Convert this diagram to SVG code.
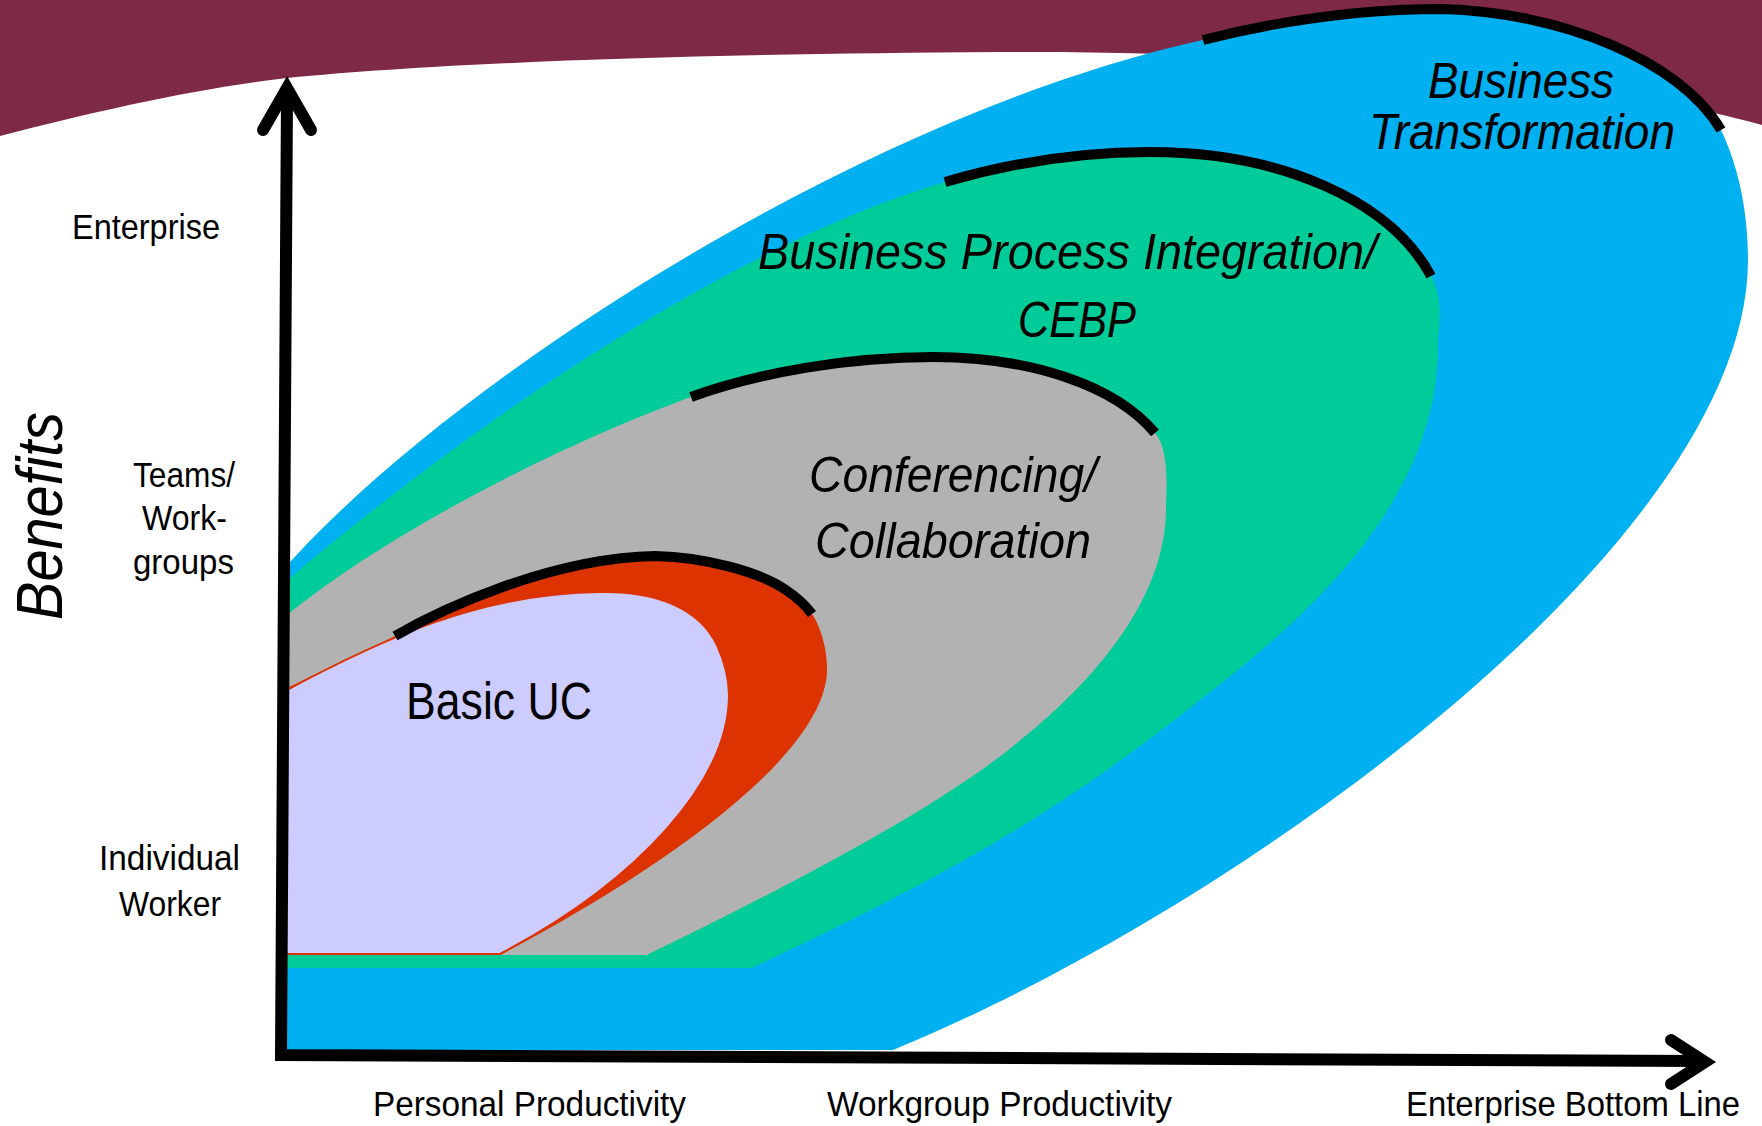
<svg xmlns="http://www.w3.org/2000/svg" width="1762" height="1126" viewBox="0 0 1762 1126">
<style>
.t{font-family:"Liberation Sans Narrow","Liberation Sans",Arial,sans-serif;fill:#000}
.ax{font-size:35px}
.it{font-size:50px;font-style:italic}
.arc{fill:none;stroke:#000;stroke-width:10;stroke-linecap:butt}
.axis{fill:none;stroke:#000;stroke-width:12}
</style>
<rect x="0" y="0" width="1762" height="1126" fill="#FFFFFF"/>
<path id="banner" d="M0,0 H1762 V125 C1600,80 1300,50 1000,52 C700,54 450,62 287,78 C200,88 100,110 0,136 Z" fill="#7F2948"/>

<g id="business-transformation">
<path d="M283,570 C448,382.5 861,115 1203,40 C1290,18 1370,9 1442,9 C1560,12 1680,60 1721,130 C1740,170 1748,215 1748,260 C1748,540 1243,906 893,1050 L280,1050 L280,570 Z" fill="#00B0F0"/>
</g>
<g id="business-process-integration">
<path d="M283,584 C473,421.5 734,244 945,182 C1010,163 1080,152 1150,152 C1280,152 1390,200 1431,276 C1442,296 1440,318 1438,340 C1440,500 1310,615 1200,700 C1044,824 932,882 752,968 L280,968 L280,584 Z" fill="#00CC99"/>
</g>
<g id="conferencing-collaboration">
<path d="M283,618 C400,523 578,438 691,397 C760,372 850,357 933,357 C1030,357 1115,385 1155,433 C1168,448 1167,480 1166,505 C1168,600 1090,685 1017,743 C925,819 737,911 647,955 L280,955 L280,618 Z" fill="#B2B2B2"/>
</g>
<g id="basic-uc">
<path d="M283,690 C320,672 360,654 395,636 C440,610 550,558 655,556 C705,557 760,572 786,590 C798,598 806,606 812,614 C818,622 827,645 827,667 C830,760 633,886 500,955 L280,955 L280,690 Z" fill="#DD3300"/>
<path d="M283,692 C380,640 480,593 600,592 C660,591 700,610 717,645 C726,665 729,680 729,695 C729,780 640,880 500,954 L283,954 Z" fill="#CCCCFF" stroke="#DD3300" stroke-width="2"/>
</g>

<g id="arcs">
<path class="arc" d="M395,636 C440,610 550,558 655,556 C705,557 760,572 786,590 C798,598 806,606 812,614"/>
<path class="arc" d="M691,397 C760,372 850,357 933,357 C1030,357 1115,385 1155,433"/>
<path class="arc" d="M945,182 C1010,163 1080,152 1150,152 C1280,152 1390,200 1431,276"/>
<path class="arc" d="M1203,40 C1290,18 1370,9 1442,9 C1560,12 1680,60 1721,130"/>
</g>

<g id="connectors">
<path class="axis" d="M287,96 L281,1055 L1700,1061" stroke-linejoin="miter"/>
<path class="axis" d="M263,130 L287,88 L311,130" stroke-linejoin="miter" stroke-linecap="round"/>
<path class="axis" d="M1671,1040 L1705,1062 L1671,1084" stroke-linejoin="miter" stroke-linecap="round"/>
</g>

<g id="labels">
<text class="t" x="0" y="0" font-size="64" font-style="italic" transform="translate(62,620) rotate(-90)" textLength="208" lengthAdjust="spacingAndGlyphs">Benefits</text>
<text class="t ax" x="72" y="239" textLength="148" lengthAdjust="spacingAndGlyphs">Enterprise</text>
<text class="t ax" x="133" y="487" textLength="102" lengthAdjust="spacingAndGlyphs">Teams/</text>
<text class="t ax" x="142" y="530" textLength="85" lengthAdjust="spacingAndGlyphs">Work-</text>
<text class="t ax" x="133" y="574" textLength="101" lengthAdjust="spacingAndGlyphs">groups</text>
<text class="t ax" x="99" y="870" textLength="141" lengthAdjust="spacingAndGlyphs">Individual</text>
<text class="t ax" x="119" y="916" textLength="102" lengthAdjust="spacingAndGlyphs">Worker</text>
<text class="t ax" x="373" y="1116" textLength="313" lengthAdjust="spacingAndGlyphs">Personal Productivity</text>
<text class="t ax" x="827" y="1116" textLength="345" lengthAdjust="spacingAndGlyphs">Workgroup Productivity</text>
<text class="t ax" x="1406" y="1116" textLength="334" lengthAdjust="spacingAndGlyphs">Enterprise Bottom Line</text>
<text class="t it" x="1428" y="98" textLength="186" lengthAdjust="spacingAndGlyphs">Business</text>
<text class="t it" x="1369" y="149" textLength="306" lengthAdjust="spacingAndGlyphs">Transformation</text>
<text class="t it" x="758" y="269" textLength="619" lengthAdjust="spacingAndGlyphs">Business Process Integration/</text>
<text class="t it" x="1018" y="337" textLength="118" lengthAdjust="spacingAndGlyphs">CEBP</text>
<text class="t it" x="809" y="492" textLength="288" lengthAdjust="spacingAndGlyphs">Conferencing/</text>
<text class="t it" x="815" y="558" textLength="276" lengthAdjust="spacingAndGlyphs">Collaboration</text>
<text class="t" x="406" y="719" font-size="51" textLength="186" lengthAdjust="spacingAndGlyphs">Basic UC</text>
</g>
</svg>
